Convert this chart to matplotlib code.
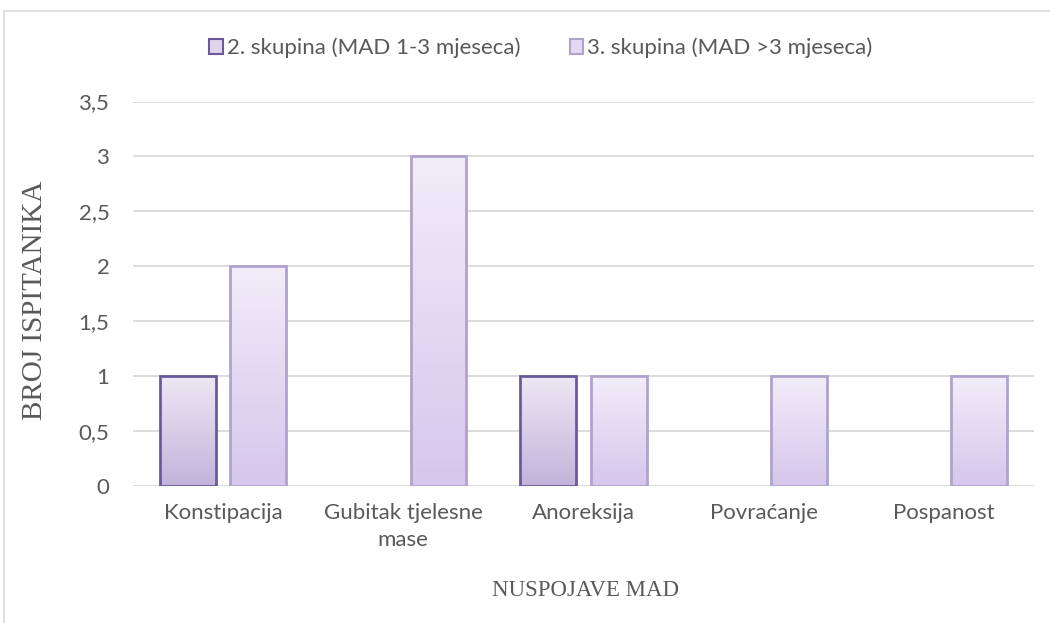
import numpy as np
import matplotlib
matplotlib.use("Agg")
import matplotlib.pyplot as plt
from matplotlib.patches import Rectangle
from matplotlib.colors import LinearSegmentedColormap

categories = ["Konstipacija", "Gubitak tjelesne\nmase", "Anoreksija", "Povraćanje", "Pospanost"]
series_names = ["2. skupina (MAD 1-3 mjeseca)", "3. skupina (MAD >3 mjeseca)"]
group2 = [1, 0, 1, 0, 0]
group3 = [2, 3, 1, 1, 1]
y_ticks = [0, 0.5, 1, 1.5, 2, 2.5, 3, 3.5]
y_tick_labels = ["0", "0,5", "1", "1,5", "2", "2,5", "3", "3,5"]

W, H = 1050, 623
fig = plt.figure(figsize=(W / 100, H / 100), dpi=100)
ax = fig.add_axes([133 / W, 137 / H, (1034 - 133) / W, (521.5 - 137) / H])

grey = "#595959"
ax.set_xlim(-0.5, len(categories) - 0.5)
ax.set_ylim(0, 3.5)
ax.set_yticks(y_ticks)
ax.set_yticklabels(y_tick_labels)
ax.yaxis.grid(True, color="#d9d9d9", linewidth=1.3)
ax.set_axisbelow(True)
for s in ax.spines.values():
    s.set_visible(False)
ax.tick_params(axis="both", length=0, colors=grey, labelsize=16)
ax.tick_params(axis="y", pad=17)
ax.tick_params(axis="x", pad=12)
ax.set_xticks(range(len(categories)))
ax.set_xticklabels(categories, fontfamily="Lato", linespacing=1.45)
for lab in ax.get_yticklabels():
    lab.set_fontfamily("Lato")

width = 0.31
offset = 0.195
x = np.arange(len(categories))

cm1 = LinearSegmentedColormap.from_list("g1", ["#c3b3db", "#ece8f4"])
cm2 = LinearSegmentedColormap.from_list("g2", ["#d6c6ec", "#f1edf9"])
grad = np.linspace(0, 1, 256).reshape(-1, 1)


def draw(xs, vals, edge, cmap, label):
    bars = ax.bar(xs, vals, width, facecolor="none", edgecolor=edge, linewidth=2,
                  label=label, zorder=3)
    for b, v in zip(bars, vals):
        if v <= 0:
            b.set_visible(False)
            continue
        x0 = b.get_x()
        im = ax.imshow(grad, extent=[x0, x0 + b.get_width(), 0, v], origin="lower",
                       aspect="auto", cmap=cmap, zorder=2)
        im.set_clip_path(b)
    return bars


draw(x - offset, group2, "#6b5a9b", cm1, series_names[0])
draw(x + offset, group3, "#b1a2cc", cm2, series_names[1])
ax.set_xlim(-0.5, len(categories) - 0.5)
ax.set_ylim(0, 3.5)

# legend
h1 = Rectangle((0, 0), 1, 1, facecolor="#ddd5ec", edgecolor="#6b5a9b", linewidth=1.5)
h2 = Rectangle((0, 0), 1, 1, facecolor="#e3daf2", edgecolor="#b1a2cc", linewidth=1.5)
leg = fig.legend([h1, h2], series_names, loc="center", bbox_to_anchor=(541 / W, 1 - 48 / H),
                 ncol=2, frameon=False, handlelength=0.6, handleheight=0.6,
                 handletextpad=0.2, columnspacing=2.2,
                 prop={"family": "Lato", "size": 16})
for t in leg.get_texts():
    t.set_color(grey)

fig.text(35 / W, 1 - 300 / H, "BROJ ISPITANIKA", rotation=90, ha="center", va="center",
         family="Liberation Serif", fontsize=21, color=grey)
fig.text(585 / W, 1 - 590 / H, "NUSPOJAVE MAD", ha="center", va="center",
         family="Liberation Serif", fontsize=16.5, color=grey)

# chart border
fig.patches.append(Rectangle((4 / W, -0.1), 1.2, 1 - 11 / H + 0.1, transform=fig.transFigure,
                             facecolor="none", edgecolor="#d9d9d9", linewidth=1.2))

fig.savefig("out.png", dpi=100)
